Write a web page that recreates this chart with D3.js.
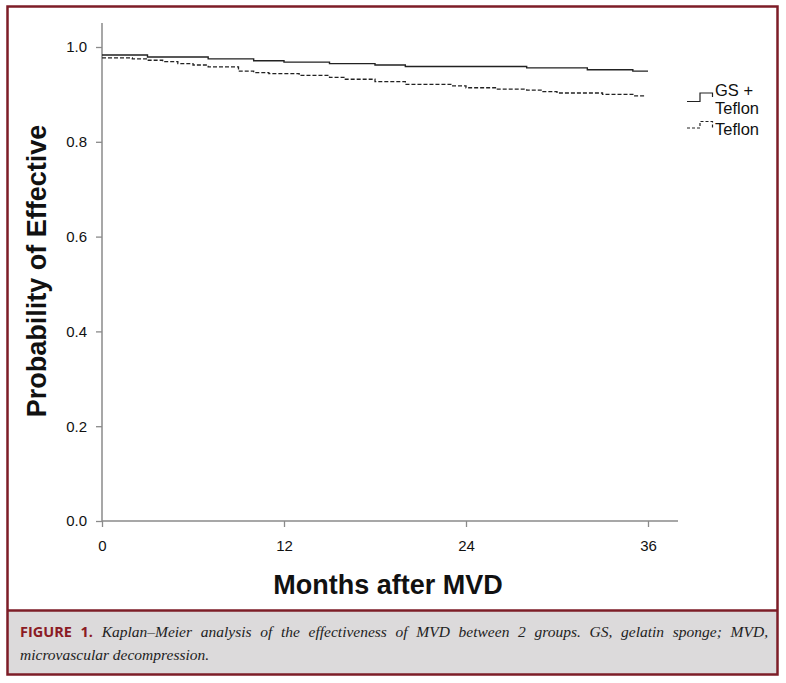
<!DOCTYPE html>
<html>
<head>
<meta charset="utf-8">
<script src="https://cdn.jsdelivr.net/npm/d3@7"></script>
<style>
  body { margin: 0; background: #fff; }
  #fig { position: relative; width: 786px; height: 683px; }
  #caption {
    position: absolute; left: 20px; top: 620px; width: 748px;
    font: italic 15.5px "Liberation Serif", serif; line-height: 23px;
    text-align: justify; color: #222;
  }
  #caption b { font: bold 14.5px "Open Sans", sans-serif; font-style: normal; color: #8b1a24; }
</style>
</head>
<body>
<div id="fig"></div>
<script>
// Kaplan-Meier steps
const gsMonths   = [0, 3, 7, 10, 12, 15, 18, 20, 28, 32, 35, 36];
const gsSurv     = [0.983, 0.979, 0.975, 0.971, 0.968, 0.965, 0.962, 0.959, 0.956, 0.952, 0.949, 0.949];
const tefMonths  = [0, 2, 3, 4, 5, 6, 7, 9, 10, 11, 13, 15, 16, 18, 20, 23, 24, 26, 28, 29, 30, 33, 35, 35.8];
const tefSurv    = [0.977, 0.975, 0.972, 0.969, 0.965, 0.962, 0.958, 0.949, 0.946, 0.944, 0.940, 0.936, 0.932, 0.927, 0.921, 0.918, 0.914, 0.911, 0.909, 0.906, 0.903, 0.900, 0.897, 0.897];
const xTicks = [0, 12, 24, 36];
const yTicks = [0, 0.2, 0.4, 0.6, 0.8, 1.0];

const W = 786, H = 683;
const sans = "'Liberation Sans', Arial, sans-serif";
const fig = d3.select("#fig");
const svg = fig.append("svg").attr("width", W).attr("height", H)
  .style("position", "absolute").style("left", 0).style("top", 0);

const red = "#7d1d27";

// frame + caption box
svg.append("rect").attr("x", 7.5).attr("y", 610.5).attr("width", 770).attr("height", 64)
  .attr("fill", "#dcdadb");
svg.append("rect").attr("x", 7.5).attr("y", 6.5).attr("width", 770).attr("height", 668)
  .attr("fill", "none").attr("stroke", red).attr("stroke-width", 2.5);
svg.append("line").attr("x1", 7.5).attr("x2", 777.5).attr("y1", 610.5).attr("y2", 610.5)
  .attr("stroke", red).attr("stroke-width", 2.5);

const x = d3.scaleLinear().domain([0, 36]).range([102, 648]);
const y = d3.scaleLinear().domain([0, 1]).range([521, 47]);

const axisCol = "#8a8a8a";
// axes lines
svg.append("line").attr("x1", 102).attr("x2", 102).attr("y1", 23).attr("y2", 521)
  .attr("stroke", axisCol).attr("stroke-width", 1.5);
svg.append("line").attr("x1", 102).attr("x2", 678).attr("y1", 521).attr("y2", 521)
  .attr("stroke", axisCol).attr("stroke-width", 1.5);

const gx = svg.append("g").attr("transform", "translate(0,521)")
  .call(d3.axisBottom(x).tickValues(xTicks).tickSize(6).tickPadding(13).tickFormat(d3.format("d")));
const gy = svg.append("g").attr("transform", "translate(102,0)")
  .call(d3.axisLeft(y).tickValues(yTicks).tickSize(6).tickPadding(9).tickFormat(d3.format(".1f")));
[gx, gy].forEach(g => {
  g.select(".domain").remove();
  g.selectAll(".tick line").attr("stroke", axisCol).attr("stroke-width", 1.3);
  g.selectAll("text").style("font-family", sans)
    .style("font-size", "15px").attr("fill", "#111");
});

// curves
const line = d3.line().x(d => x(d[0])).y(d => y(d[1])).curve(d3.curveStepAfter);
svg.append("path").datum(d3.zip(gsMonths, gsSurv)).attr("d", line)
  .attr("fill", "none").attr("stroke", "#222").attr("stroke-width", 1.4);
svg.append("path").datum(d3.zip(tefMonths, tefSurv)).attr("d", line)
  .attr("fill", "none").attr("stroke", "#222").attr("stroke-width", 1.3)
  .attr("stroke-dasharray", "4,2");

// axis titles
svg.append("text").attr("x", 388).attr("y", 594).attr("text-anchor", "middle")
  .style("font-family", sans).attr("font-weight", "bold")
  .style("font-size", "27px").attr("fill", "#111").text("Months after MVD");
svg.append("text").attr("transform", "translate(46,271) rotate(-90)").attr("text-anchor", "middle")
  .style("font-family", sans).attr("font-weight", "bold")
  .style("font-size", "27px").attr("fill", "#111").text("Probability of Effective");

// legend
const lg = svg.append("g").attr("fill", "none").attr("stroke", "#222").attr("stroke-width", 1.2);
lg.append("path").attr("d", "M687,101.5H700V93H712.5V97");
lg.append("path").attr("d", "M687,128H700V121.5H712.5V128").attr("stroke-dasharray", "3,2");
const lt = svg.append("g").style("font-family", sans)
  .style("font-size", "16.5px").attr("fill", "#111");
lt.append("text").attr("x", 715).attr("y", 96).text("GS +");
lt.append("text").attr("x", 715).attr("y", 114).text("Teflon");
lt.append("text").attr("x", 715).attr("y", 135).text("Teflon");

// caption
fig.append("div").attr("id", "caption")
  .html("<b>FIGURE 1.</b> <span>Kaplan–Meier analysis of the effectiveness of MVD between 2 groups. GS, gelatin sponge; MVD, microvascular decompression.</span>");
</script>
</body>
</html>
